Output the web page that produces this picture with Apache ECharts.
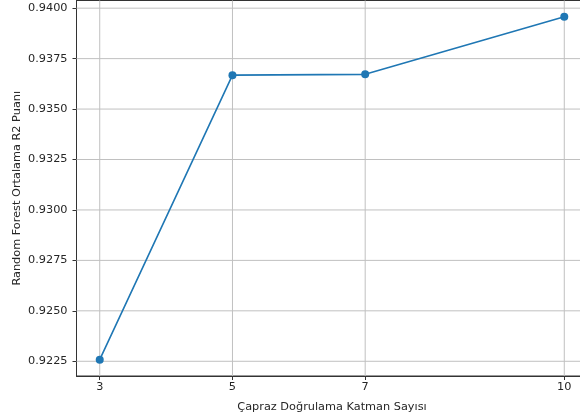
<!DOCTYPE html>
<html>
<head>
<meta charset="utf-8">
<script src="https://cdn.jsdelivr.net/npm/echarts@6/dist/echarts.min.js"></script>
<style>
    html, body { margin: 0; padding: 0; background: #fff; }
    #chart { width: 580px; height: 420px; }
</style>
</head>
<body>
<div id="chart"></div>
<script>
// fold counts and mean R2 scores
var foldCounts = [3, 5, 7, 10];
var meanR2 = [0.92258, 0.93668, 0.93672, 0.93957];
var yTicks = [0.9225, 0.9250, 0.9275, 0.9300, 0.9325, 0.9350, 0.9375, 0.9400];
var xTicks = [3, 5, 7, 10];

var chart = echarts.init(document.getElementById('chart'));

var points = foldCounts.map(function (k, i) {
    return [k, meanR2[i]];
});

var textStyle = { fontFamily: 'DejaVu Sans', fontSize: 11.3, color: '#262626' };

// gridline rows: [x, y, isVertical]
var gridRows = xTicks.map(function (v) { return [v, yTicks[0], 1]; })
    .concat(yTicks.map(function (v) { return [xTicks[0], v, 0]; }));

var renderGridLine = function (params, api) {
    var cs = params.coordSys;
    var p = api.coord([api.value(0), api.value(1)]);
    var shape;
    if (api.value(2) === 1) {
        shape = { x1: p[0], y1: cs.y, x2: p[0], y2: cs.y + cs.height };
    } else {
        shape = { x1: cs.x, y1: p[1], x2: cs.x + cs.width, y2: p[1] };
    }
    return {
        type: 'line',
        shape: shape,
        style: { stroke: '#c0c0c0', lineWidth: 1 },
        silent: true
    };
};

chart.setOption({
    animation: false,
    backgroundColor: '#fff',
    grid: {
        left: 76.5,
        top: 0.5,
        right: -7.5,
        bottom: 44,
        show: true,
        borderColor: '#333',
        borderWidth: 1,
        outerBoundsMode: 'none',
        containLabel: false
    },
    xAxis: {
        type: 'value',
        min: 2.65,
        max: 10.35,
        name: 'Çapraz Doğrulama Katman Sayısı',
        nameLocation: 'middle',
        nameGap: 26,
        nameMoveOverlap: false,
        nameTextStyle: textStyle,
        axisLine: { show: true, lineStyle: { color: '#333', width: 1 } },
        axisTick: { show: true, inside: false, length: 4, customValues: xTicks, lineStyle: { color: '#333' } },
        axisLabel: Object.assign({ margin: 6, customValues: xTicks }, textStyle),
        splitLine: { show: false }
    },
    yAxis: {
        type: 'value',
        min: 0.92177,
        max: 0.94038,
        name: 'Random Forest Ortalama R2 Puanı',
        nameLocation: 'middle',
        nameGap: 54,
        nameMoveOverlap: false,
        nameTextStyle: textStyle,
        axisLine: { show: true, lineStyle: { color: '#333', width: 1 } },
        axisTick: { show: true, inside: false, length: 4, customValues: yTicks, lineStyle: { color: '#333' } },
        axisLabel: Object.assign({
            margin: 9,
            customValues: yTicks,
            formatter: function (v) { return v.toFixed(4); }
        }, textStyle),
        splitLine: { show: false }
    },
    series: [
        {
            type: 'custom',
            data: gridRows,
            renderItem: renderGridLine,
            silent: true,
            clip: false,
            z: 1
        },
        {
            type: 'line',
            data: points,
            symbol: 'circle',
            symbolSize: 8,
            lineStyle: { color: '#1f77b4', width: 1.6 },
            itemStyle: { color: '#1f77b4' },
            z: 5
        }
    ]
});
</script>
</body>
</html>
